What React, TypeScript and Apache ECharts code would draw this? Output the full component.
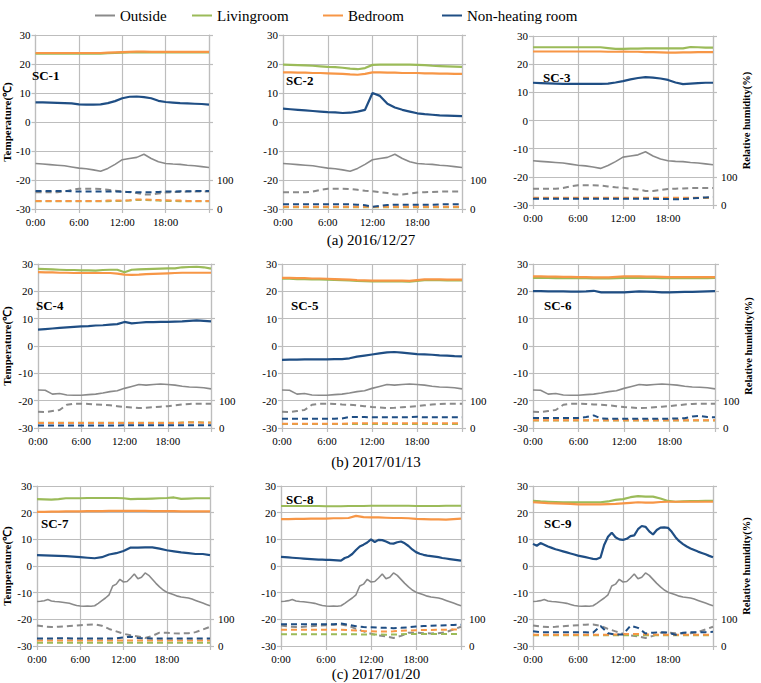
import { useEffect, useRef } from 'react';
import * as echarts from 'echarts';

// ---------------- data ----------------
// Temperatures in °C, relative humidity in %.
// Row (a) and (b) series are hourly (0:00 … 24:00, 25 values);
// the faster-moving row (c) series are half-hourly (49 values).

// (a) 2016/12/27
const T_OUT_A = [-14.3, -14.5, -14.7, -14.9, -15.1, -15.5, -15.9, -16.1, -16.5, -17.0, -16.0, -14.6, -13.0, -12.6, -12.2, -11.1, -12.6, -13.7, -14.3, -14.5, -14.6, -14.9, -15.1, -15.4, -15.7];
const RH_OUT_A = [58, 58, 58, 58, 60, 66, 70, 70, 70, 69, 66, 63, 61, 58, 55, 50, 50, 53, 57, 58, 59, 60, 60, 60, 60];

const T_LIV_1 = [23.6, 23.6, 23.6, 23.6, 23.6, 23.6, 23.6, 23.6, 23.6, 23.6, 23.7, 23.8, 23.9, 24.0, 24.0, 24.0, 24.0, 24.0, 24.0, 24.0, 24.0, 24.0, 24.0, 24.0, 24.0];
const T_BED_1 = [23.8, 23.8, 23.8, 23.8, 23.8, 23.8, 23.8, 23.8, 23.8, 23.8, 23.9, 24.0, 24.1, 24.2, 24.3, 24.3, 24.2, 24.2, 24.2, 24.2, 24.2, 24.2, 24.2, 24.2, 24.2];
const T_NH_1 = [6.8, 6.8, 6.7, 6.6, 6.5, 6.4, 6.1, 6.0, 6.0, 6.1, 6.5, 7.2, 8.2, 8.7, 8.8, 8.6, 8.2, 7.3, 6.9, 6.7, 6.5, 6.4, 6.3, 6.2, 6.0];
const RH_LIV_1 = [27, 27, 27, 27, 27, 27, 27, 27, 27, 27, 27, 28, 28, 29, 31, 31, 30, 29, 28, 28, 27, 27, 27, 27, 27];
const RH_BED_1 = [28, 28, 28, 28, 28, 28, 28, 28, 28, 28, 29, 29, 29, 30, 33, 33, 32, 31, 30, 29, 29, 28, 28, 28, 28];
const RH_NH_1 = [62, 62, 62, 62, 62, 61, 60, 60, 60, 60, 60, 60, 59, 59, 58, 58, 58, 59, 60, 60, 61, 61, 62, 62, 62];

const T_LIV_2 = [19.8, 19.7, 19.6, 19.5, 19.4, 19.2, 19.0, 18.9, 18.7, 18.4, 18.2, 18.6, 19.7, 19.8, 19.8, 19.8, 19.8, 19.8, 19.7, 19.6, 19.4, 19.3, 19.2, 19.1, 19.0];
const T_BED_2 = [17.1, 17.1, 17.0, 17.0, 16.9, 16.9, 16.8, 16.7, 16.6, 16.4, 16.3, 16.6, 17.1, 17.1, 17.0, 17.0, 16.9, 16.9, 16.9, 16.8, 16.8, 16.7, 16.7, 16.6, 16.6];
const T_NH_2 = [4.6, 4.4, 4.2, 4.0, 3.8, 3.6, 3.4, 3.3, 3.1, 3.2, 3.6, 4.2, 10.0, 9.0, 6.3, 5.0, 4.2, 3.6, 3.0, 2.7, 2.5, 2.3, 2.2, 2.1, 2.0];
const RH_LIV_2 = [6, 6, 6, 6, 6, 6, 6, 6, 6, 6, 6, 6, 6, 6, 6, 6, 6, 6, 6, 6, 6, 6, 6, 6, 6];
const RH_BED_2 = [8, 8, 8, 8, 8, 8, 8, 8, 8, 8, 8, 8, 7, 8, 8, 8, 8, 8, 8, 8, 8, 8, 8, 8, 8];
const RH_NH_2 = [16, 16, 16, 16, 16, 16, 16, 16, 16, 16, 15, 13, 8, 11, 14, 15, 15, 15, 15, 15, 15, 16, 16, 16, 16];

const T_LIV_3 = [26.0, 26.0, 26.0, 26.0, 26.0, 26.0, 26.0, 26.0, 26.0, 26.0, 25.7, 25.4, 25.4, 25.5, 25.5, 25.6, 25.6, 25.6, 25.6, 25.6, 25.6, 26.1, 26.0, 25.9, 25.9];
const T_BED_3 = [24.5, 24.5, 24.5, 24.5, 24.5, 24.5, 24.5, 24.5, 24.5, 24.5, 24.4, 24.4, 24.5, 24.4, 24.4, 24.3, 24.3, 24.2, 24.1, 24.1, 24.2, 24.2, 24.3, 24.3, 24.3];
const T_NH_3 = [13.4, 13.3, 13.2, 13.1, 13.0, 13.0, 13.0, 13.0, 13.0, 13.0, 13.1, 13.5, 14.0, 14.6, 15.1, 15.4, 15.2, 14.9, 14.4, 13.5, 12.9, 13.1, 13.3, 13.4, 13.4];
const RH_LIV_3 = [25, 25, 25, 25, 25, 25, 25, 25, 25, 25, 25, 25, 25, 25, 25, 25, 25, 25, 25, 25, 25, 25, 25, 25, 25];
const RH_BED_3 = [26, 26, 26, 26, 26, 26, 26, 26, 26, 26, 26, 26, 26, 26, 26, 26, 26, 26, 26, 26, 26, 26, 26, 26, 26];
const RH_NH_3 = [22, 22, 22, 22, 22, 22, 22, 22, 22, 22, 22, 22, 22, 22, 22, 22, 22, 21, 21, 20, 21, 23, 25, 27, 28];

// (b) 2017/01/13
const T_OUT_B = [-16.1, -16.2, -17.6, -17.4, -17.9, -18.0, -18.0, -17.8, -17.6, -17.2, -16.7, -16.4, -15.5, -14.8, -14.1, -14.3, -14.1, -13.9, -14.1, -14.3, -14.7, -15.0, -15.1, -15.3, -15.7];
const RH_OUT_B = [59, 58, 62, 66, 85, 89, 89, 88, 86, 85, 83, 80, 77, 75, 73, 74, 76, 78, 80, 83, 86, 88, 89, 89, 89];

const T_LIV_4 = [28.2, 28.1, 28.0, 27.9, 27.8, 27.8, 27.7, 27.7, 27.6, 27.8, 27.9, 27.9, 27.0, 27.9, 28.0, 28.1, 28.2, 28.3, 28.4, 28.4, 28.8, 28.9, 29.0, 28.8, 28.3];
const T_BED_4 = [27.0, 26.9, 26.9, 26.8, 26.8, 26.7, 26.7, 26.7, 26.7, 26.7, 26.7, 26.5, 26.1, 26.0, 26.1, 26.3, 26.4, 26.5, 26.6, 26.7, 26.8, 26.8, 26.8, 26.8, 26.8];
const T_NH_4 = [6.0, 6.2, 6.4, 6.6, 6.8, 7.0, 7.2, 7.3, 7.5, 7.6, 7.8, 8.0, 8.8, 8.3, 8.5, 8.7, 8.7, 8.8, 8.8, 8.9, 9.0, 9.2, 9.4, 9.2, 9.0];
const RH_LIV_4 = [19, 19, 19, 19, 19, 19, 19, 19, 19, 19, 19, 19, 19, 19, 19, 19, 19, 19, 19, 19, 20, 21, 21, 20, 20];
const RH_BED_4 = [18, 18, 18, 18, 18, 18, 18, 18, 18, 18, 18, 18, 18, 18, 18, 18, 18, 18, 18, 18, 19, 20, 20, 19, 19];
const RH_NH_4 = [9, 9, 9, 9, 9, 9, 9, 9, 9, 9, 9, 9, 10, 10, 10, 10, 10, 10, 10, 10, 10, 10, 10, 10, 10];

const T_LIV_5 = [24.6, 24.6, 24.5, 24.5, 24.4, 24.4, 24.3, 24.2, 24.1, 24.0, 23.8, 23.7, 23.6, 23.6, 23.6, 23.6, 23.6, 23.5, 23.8, 24.1, 24.1, 24.1, 24.0, 24.0, 24.0];
const T_BED_5 = [24.9, 24.9, 24.8, 24.8, 24.7, 24.7, 24.6, 24.5, 24.4, 24.3, 24.1, 24.0, 23.9, 23.9, 23.9, 23.9, 23.9, 23.8, 24.1, 24.4, 24.4, 24.4, 24.3, 24.3, 24.3];
const T_NH_5 = [-5.1, -5.0, -5.0, -4.9, -4.9, -4.9, -4.9, -4.8, -4.8, -4.5, -3.9, -3.5, -3.1, -2.7, -2.3, -2.2, -2.4, -2.7, -3.0, -3.1, -3.2, -3.4, -3.5, -3.7, -3.8];
const RH_LIV_5 = [15, 15, 15, 15, 15, 15, 15, 15, 15, 15, 15, 15, 15, 15, 15, 15, 15, 15, 15, 15, 15, 15, 15, 15, 15];
const RH_BED_5 = [16, 16, 16, 16, 16, 16, 16, 16, 16, 17, 17, 17, 17, 17, 17, 17, 17, 17, 17, 17, 17, 17, 17, 17, 17];
const RH_NH_5 = [34, 34, 34, 34, 34, 34, 34, 34, 35, 40, 40, 40, 39, 39, 39, 39, 39, 40, 41, 39, 39, 39, 39, 39, 39];

const T_LIV_6 = [24.9, 24.9, 24.9, 24.8, 24.8, 24.8, 24.8, 24.8, 24.7, 24.7, 24.7, 24.8, 24.9, 24.9, 24.9, 24.9, 24.9, 24.8, 24.8, 24.8, 24.8, 24.8, 24.8, 24.8, 24.9];
const T_BED_6 = [25.5, 25.5, 25.4, 25.4, 25.3, 25.3, 25.2, 25.2, 25.1, 25.1, 25.1, 25.3, 25.5, 25.5, 25.5, 25.4, 25.4, 25.3, 25.2, 25.2, 25.2, 25.2, 25.2, 25.2, 25.2];
const T_NH_6 = [20.1, 20.1, 20.0, 20.0, 20.0, 19.9, 19.9, 20.0, 20.2, 19.6, 19.6, 19.6, 19.6, 19.8, 20.0, 19.9, 19.8, 19.6, 19.6, 19.7, 19.8, 19.8, 19.9, 20.0, 20.1];
const RH_LIV_6 = [27, 27, 27, 27, 27, 27, 27, 27, 27, 27, 27, 27, 27, 27, 27, 27, 27, 27, 27, 27, 27, 27, 27, 27, 27];
const RH_BED_6 = [28, 28, 28, 28, 28, 28, 28, 28, 28, 28, 28, 28, 28, 28, 28, 28, 28, 28, 28, 28, 28, 28, 28, 28, 28];
const RH_NH_6 = [37, 37, 37, 37, 37, 37, 37, 40, 46, 35, 34, 34, 34, 34, 34, 34, 34, 34, 34, 35, 36, 42, 44, 40, 39];

// (c) 2017/01/20
const T_OUT_C = [-13.3, -13.2, -13.0, -12.6, -13.1, -13.3, -13.4, -13.6, -13.8, -14.0, -14.4, -14.8, -15.0, -15.1, -15.0, -15.1, -14.9, -14.0, -13.0, -12.0, -10.8, -7.5, -6.8, -5.0, -6.0, -5.8, -4.5, -3.0, -4.8, -4.2, -2.6, -3.5, -5.0, -6.5, -7.8, -9.0, -9.8, -10.3, -10.8, -11.3, -11.6, -11.8, -12.0, -12.4, -12.9, -13.4, -13.9, -14.4, -14.9];
const RH_OUT_C = [77, 73, 71, 72, 74, 76, 78, 80, 81, 76, 64, 55, 46, 40, 36, 30, 38, 50, 50, 48, 47, 48, 52, 62, 72];

const T_LIV_7 = [25.1, 25.0, 24.9, 25.1, 25.4, 25.4, 25.4, 25.5, 25.5, 25.5, 25.5, 25.5, 25.4, 25.1, 25.2, 25.2, 25.3, 25.4, 25.5, 25.7, 25.2, 25.3, 25.4, 25.4, 25.4];
const T_BED_7 = [20.3, 20.3, 20.4, 20.4, 20.5, 20.5, 20.5, 20.6, 20.6, 20.6, 20.7, 20.7, 20.7, 20.7, 20.7, 20.7, 20.6, 20.6, 20.6, 20.6, 20.5, 20.5, 20.5, 20.5, 20.5];
const T_NH_7 = [4.1, 4.0, 3.9, 3.8, 3.7, 3.5, 3.3, 3.1, 2.9, 3.3, 4.3, 4.8, 5.6, 6.9, 6.9, 7.0, 7.0, 6.5, 5.9, 5.5, 5.1, 4.8, 4.5, 4.5, 4.1];
const RH_LIV_7 = [12, 12, 12, 12, 12, 12, 12, 12, 12, 12, 12, 12, 12, 12, 12, 12, 12, 12, 12, 12, 12, 12, 12, 12, 12];
const RH_BED_7 = [21, 21, 21, 21, 21, 21, 21, 21, 21, 21, 21, 21, 21, 21, 21, 21, 21, 21, 21, 21, 21, 21, 21, 21, 21];
const RH_NH_7 = [28, 28, 28, 29, 29, 28, 28, 28, 28, 28, 28, 29, 32, 35, 30, 29, 28, 28, 28, 28, 28, 28, 28, 28, 28];

const T_LIV_8 = [22.5, 22.5, 22.5, 22.5, 22.5, 22.5, 22.4, 22.4, 22.4, 22.5, 22.5, 22.5, 22.6, 22.6, 22.6, 22.6, 22.6, 22.6, 22.5, 22.5, 22.5, 22.5, 22.6, 22.6, 22.6];
const T_BED_8 = [17.6, 17.6, 17.7, 17.7, 17.8, 17.8, 17.8, 17.9, 17.9, 18.0, 18.8, 18.3, 18.2, 18.2, 18.1, 18.0, 18.0, 17.9, 17.7, 17.6, 17.5, 17.5, 17.4, 17.6, 17.8];
const T_NH_8 = [3.4, 3.3, 3.2, 3.1, 3.0, 2.9, 2.8, 2.7, 2.6, 2.5, 2.4, 2.4, 2.3, 2.3, 2.2, 2.1, 2.0, 3.0, 3.5, 4.5, 6.0, 7.3, 8.0, 8.8, 10.0, 9.0, 9.8, 9.7, 9.2, 8.5, 8.4, 8.9, 9.2, 8.5, 7.5, 6.2, 5.2, 4.6, 4.2, 3.9, 3.7, 3.5, 3.3, 3.0, 2.8, 2.6, 2.4, 2.2, 2.0];
const RH_LIV_8 = [44, 44, 44, 44, 44, 44, 44, 44, 44, 44, 44, 43, 43, 43, 42, 43, 44, 45, 45, 45, 45, 45, 45, 45, 46];
const RH_BED_8 = [61, 61, 61, 61, 61, 61, 61, 61, 61, 60, 58, 56, 55, 54, 54, 55, 57, 58, 59, 60, 60, 61, 61, 62, 62];
const RH_NH_8 = [82, 82, 82, 82, 82, 82, 82, 82, 84, 80, 74, 71, 70, 69, 68, 67, 68, 70, 73, 75, 76, 77, 78, 79, 80];

const T_LIV_9 = [24.4, 24.2, 24.1, 24.0, 23.9, 23.9, 23.9, 23.9, 23.9, 23.9, 24.2, 24.8, 25.1, 25.8, 26.2, 26.0, 26.0, 25.3, 24.4, 24.1, 24.2, 24.3, 24.3, 24.4, 24.4];
const T_BED_9 = [23.9, 23.8, 23.6, 23.5, 23.4, 23.3, 23.1, 23.1, 23.1, 23.1, 23.2, 23.3, 23.5, 23.7, 23.9, 23.8, 23.8, 24.0, 24.1, 24.1, 24.1, 24.1, 24.1, 24.1, 24.1];
const T_NH_9 = [8.3, 7.6, 8.6, 8.0, 7.3, 6.8, 6.3, 5.9, 5.5, 5.1, 4.7, 4.3, 3.9, 3.6, 3.3, 3.0, 2.7, 2.6, 3.2, 8.0, 11.0, 12.5, 10.8, 10.0, 9.8, 10.2, 11.2, 11.5, 13.8, 15.0, 14.7, 13.0, 11.8, 13.5, 14.4, 14.5, 14.3, 12.8, 10.8, 9.3, 8.2, 7.3, 6.6, 6.0, 5.4, 4.9, 4.4, 3.8, 3.3];
const RH_LIV_9 = [40, 40, 40, 40, 40, 40, 40, 40, 40, 40, 40, 40, 40, 40, 40, 40, 40, 40, 40, 40, 40, 40, 40, 40, 40];
const RH_BED_9 = [42, 42, 42, 42, 42, 42, 42, 42, 42, 42, 42, 43, 44, 45, 45, 44, 43, 42, 42, 42, 42, 42, 42, 42, 42];
const RH_NH_9 = [55, 52, 52, 52, 52, 52, 52, 52, 50, 75, 48, 43, 43, 76, 68, 47, 50, 52, 50, 42, 50, 52, 52, 52, 53];

const PANEL_LABELS = ['SC-1', 'SC-2', 'SC-3', 'SC-4', 'SC-5', 'SC-6', 'SC-7', 'SC-8', 'SC-9'];
const DAY_CAPTIONS = ['(a) 2016/12/27', '(b) 2017/01/13', '(c) 2017/01/20'];
const SERIES_NAMES = ['Outside', 'Livingroom', 'Bedroom', 'Non-heating room'];
const TEMP_TICKS = { min: -30, max: 30, step: 10 };
const RH_AXIS = { min: 0, max: 600, step: 100, shown: [0, 100] };

type Panel = {
  out: number[]; liv: number[]; bed: number[]; nh: number[];
  outRH: number[]; livRH: number[]; bedRH: number[]; nhRH: number[];
};

const PANELS: Panel[] = [
  { out: T_OUT_A, liv: T_LIV_1, bed: T_BED_1, nh: T_NH_1, outRH: RH_OUT_A, livRH: RH_LIV_1, bedRH: RH_BED_1, nhRH: RH_NH_1 },
  { out: T_OUT_A, liv: T_LIV_2, bed: T_BED_2, nh: T_NH_2, outRH: RH_OUT_A, livRH: RH_LIV_2, bedRH: RH_BED_2, nhRH: RH_NH_2 },
  { out: T_OUT_A, liv: T_LIV_3, bed: T_BED_3, nh: T_NH_3, outRH: RH_OUT_A, livRH: RH_LIV_3, bedRH: RH_BED_3, nhRH: RH_NH_3 },
  { out: T_OUT_B, liv: T_LIV_4, bed: T_BED_4, nh: T_NH_4, outRH: RH_OUT_B, livRH: RH_LIV_4, bedRH: RH_BED_4, nhRH: RH_NH_4 },
  { out: T_OUT_B, liv: T_LIV_5, bed: T_BED_5, nh: T_NH_5, outRH: RH_OUT_B, livRH: RH_LIV_5, bedRH: RH_BED_5, nhRH: RH_NH_5 },
  { out: T_OUT_B, liv: T_LIV_6, bed: T_BED_6, nh: T_NH_6, outRH: RH_OUT_B, livRH: RH_LIV_6, bedRH: RH_BED_6, nhRH: RH_NH_6 },
  { out: T_OUT_C, liv: T_LIV_7, bed: T_BED_7, nh: T_NH_7, outRH: RH_OUT_C, livRH: RH_LIV_7, bedRH: RH_BED_7, nhRH: RH_NH_7 },
  { out: T_OUT_C, liv: T_LIV_8, bed: T_BED_8, nh: T_NH_8, outRH: RH_OUT_C, livRH: RH_LIV_8, bedRH: RH_BED_8, nhRH: RH_NH_8 },
  { out: T_OUT_C, liv: T_LIV_9, bed: T_BED_9, nh: T_NH_9, outRH: RH_OUT_C, livRH: RH_LIV_9, bedRH: RH_BED_9, nhRH: RH_NH_9 },
];

// ---------------- layout & style ----------------
const W = 761;
const H = 683;
const SERIF = 'Liberation Serif';
const GRID_COLOR = '#bdbdbd';
const COLORS = ['#8a8a8a', '#9bbb59', '#f79646', '#1f4e84'];

// plot boxes: left, top, width, height
const BOXES = [
  [28, 35, 181, 174], [283, 35, 179, 174], [533, 36, 180, 169],
  [32, 264, 179, 164], [282, 264, 180, 164], [533, 264, 182, 164],
  [32, 486, 178, 160], [281, 486, 180, 160], [533, 486, 180, 160],
];
// panel tag position (left x, centre y)
const TAG_POS = [[32, 75], [286, 80], [543, 77], [36, 305], [291, 305], [544, 305], [41, 523], [286, 499], [544, 523]];
const CAPTION_POS = [[371, 240], [376, 462], [376, 674]];
const LEFT_NAME_GAP = [22, 0, 0, 26, 0, 0, 25, 0, 0];
const RIGHT_NAME_GAP = [0, 0, 26, 0, 0, 28, 0, 0, 27];
const LEGEND_LEFT = [95, 192, 323, 442];

// spread a series evenly over the 24-hour axis
const overDay = (arr: number[]) => arr.map((v, i) => [(i * 24) / (arr.length - 1), v]);

function buildOption() {
  const grid = BOXES.map(([left, top, width, height]) => ({ left, top, width, height }));

  const axisLineStyle = { color: GRID_COLOR, width: 1.2 };
  const labelStyle = { color: '#000', fontSize: 11, fontFamily: SERIF };

  const xAxis = BOXES.map((_, i) => ({
    gridIndex: i,
    type: 'value',
    min: 0,
    max: 24,
    interval: 6,
    axisLine: { onZero: false, lineStyle: axisLineStyle },
    axisTick: { show: true, length: 4, lineStyle: axisLineStyle },
    splitLine: { show: true, lineStyle: axisLineStyle },
    axisLabel: { ...labelStyle, margin: 7, formatter: (v: number) => (v >= 24 ? '' : `${v}:00`) },
  }));

  const yAxis: any[] = [];
  BOXES.forEach((_, i) => {
    const col = i % 3;
    yAxis.push({
      gridIndex: i,
      type: 'value',
      position: 'left',
      min: TEMP_TICKS.min,
      max: TEMP_TICKS.max,
      interval: TEMP_TICKS.step,
      axisLine: { show: true, lineStyle: axisLineStyle },
      axisTick: { show: true, length: 4, lineStyle: axisLineStyle },
      splitLine: { show: true, lineStyle: axisLineStyle },
      axisLabel: { ...labelStyle, margin: 5 },
      name: col === 0 ? 'Temperature(℃)' : '',
      nameLocation: 'middle',
      nameGap: LEFT_NAME_GAP[i],
      nameTextStyle: { fontFamily: SERIF, fontWeight: 'bold', fontSize: 11, color: '#000' },
    });
    yAxis.push({
      gridIndex: i,
      type: 'value',
      position: 'right',
      min: RH_AXIS.min,
      max: RH_AXIS.max,
      interval: RH_AXIS.step,
      axisLine: { show: true, lineStyle: axisLineStyle },
      axisTick: { show: true, length: 4, lineStyle: axisLineStyle },
      splitLine: { show: false },
      axisLabel: {
        ...labelStyle,
        margin: 8,
        formatter: (v: number) => (RH_AXIS.shown.includes(v) ? String(v) : ''),
      },
      name: col === 2 ? 'Relative humidity(%)' : '',
      nameLocation: 'middle',
      nameGap: RIGHT_NAME_GAP[i],
      nameRotate: 90,
      nameTextStyle: { fontFamily: SERIF, fontWeight: 'bold', fontSize: 10.5, color: '#000' },
    });
  });

  const series: any[] = [];
  PANELS.forEach((p, i) => {
    const rh = [p.outRH, p.livRH, p.bedRH, p.nhRH];
    rh.forEach((arr, k) => {
      series.push({
        name: `${SERIES_NAMES[k]} RH`,
        type: 'line',
        xAxisIndex: i,
        yAxisIndex: 2 * i + 1,
        data: overDay(arr),
        showSymbol: false,
        symbol: 'none',
        color: COLORS[k],
        lineStyle: { color: COLORS[k], width: 2, type: [6, 4] },
        z: 2,
      });
    });
    const temps = [p.out, p.liv, p.bed, p.nh];
    temps.forEach((arr, k) => {
      series.push({
        name: SERIES_NAMES[k],
        type: 'line',
        xAxisIndex: i,
        yAxisIndex: 2 * i,
        data: overDay(arr),
        showSymbol: false,
        symbol: 'none',
        color: COLORS[k],
        lineStyle: { color: COLORS[k], width: k === 0 ? 1.6 : 2.2 },
        z: 3,
      });
    });
  });

  const legend = SERIES_NAMES.map((name, k) => ({
    data: [name],
    left: LEGEND_LEFT[k],
    top: 8,
    padding: 0,
    icon: 'rect',
    itemWidth: 20,
    itemHeight: 2,
    selectedMode: false,
    textStyle: { fontFamily: SERIF, fontSize: 15, color: '#000' },
  }));

  const graphic: any[] = [];
  PANEL_LABELS.forEach((label, i) => {
    graphic.push({
      type: 'text',
      x: TAG_POS[i][0],
      y: TAG_POS[i][1],
      z: 10,
      style: {
        text: label,
        fontFamily: SERIF,
        fontWeight: 'bold',
        fontSize: 13,
        fill: '#000',
        align: 'left',
        verticalAlign: 'middle',
      },
    });
  });
  DAY_CAPTIONS.forEach((text, r) => {
    graphic.push({
      type: 'text',
      x: CAPTION_POS[r][0],
      y: CAPTION_POS[r][1],
      style: {
        text,
        fontFamily: SERIF,
        fontSize: 15,
        fill: '#000',
        align: 'center',
        verticalAlign: 'middle',
      },
    });
  });

  return {
    animation: false,
    backgroundColor: '#fff',
    textStyle: { fontFamily: SERIF },
    grid,
    xAxis,
    yAxis,
    legend,
    series,
    graphic,
  };
}

export default function App() {
  const ref = useRef<HTMLDivElement>(null);

  useEffect(() => {
    document.body.style.margin = '0';
    if (!ref.current) return;
    const chart = echarts.init(ref.current, undefined, { renderer: 'svg' });
    chart.setOption(buildOption() as any);
    return () => {
      chart.dispose();
    };
  }, []);

  return <div ref={ref} style={{ width: W, height: H }} />;
}
